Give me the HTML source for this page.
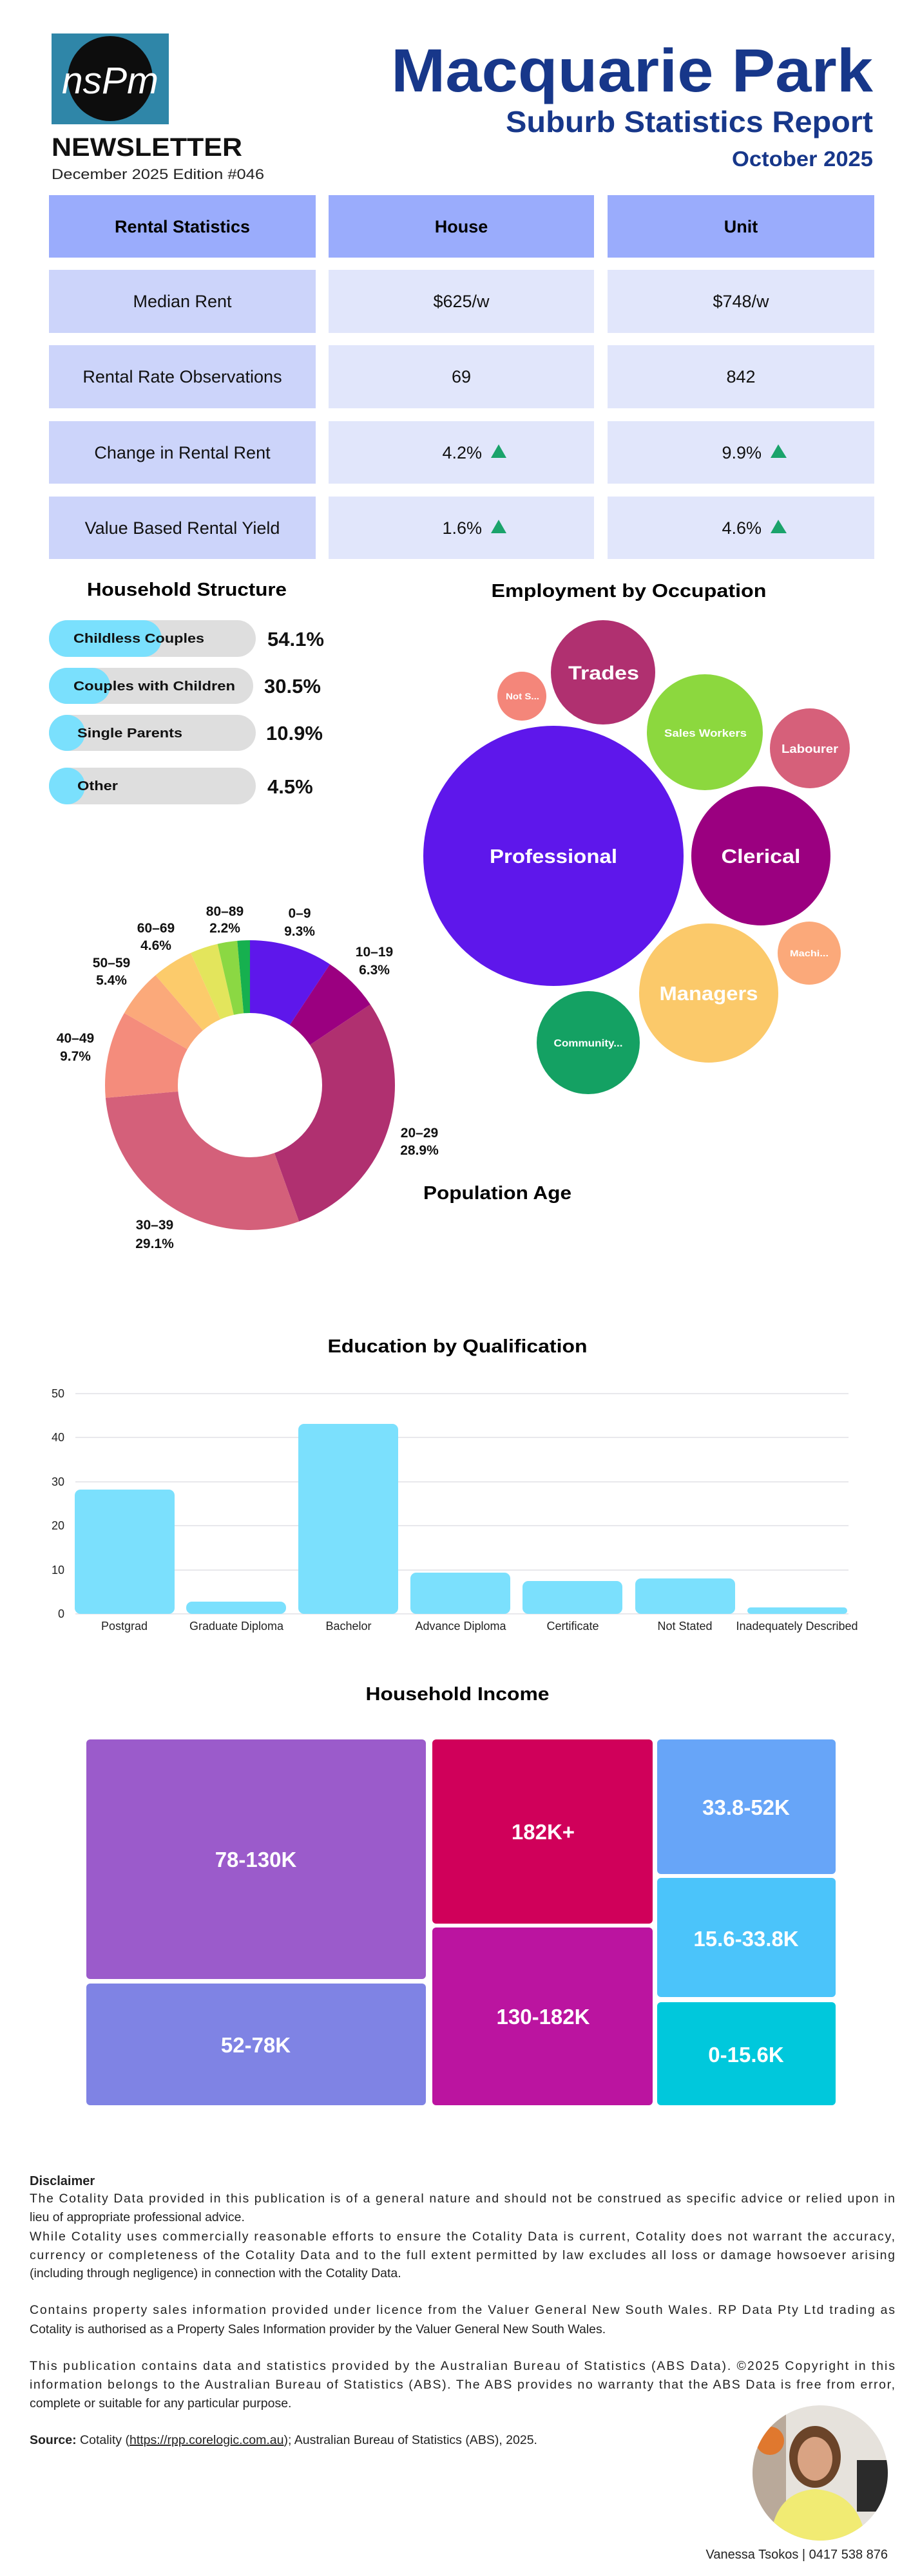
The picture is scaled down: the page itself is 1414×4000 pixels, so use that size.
<!DOCTYPE html>
<html><head><meta charset="utf-8"><style>
html,body{margin:0;padding:0;background:#fff}
svg{display:block}
text{font-family:"Liberation Sans",sans-serif}
.b{font-weight:bold}
</style></head><body>
<svg width="1414" height="4000" viewBox="0 0 1414 4000" xmlns="http://www.w3.org/2000/svg">
<rect width="1414" height="4000" fill="#fff"/>
<!-- logo -->
<rect x="80" y="52" width="182" height="141" fill="#2f86a8"/>
<circle cx="171" cy="122" r="66" fill="#0d0d0d"/>
<text x="171" y="145" text-anchor="middle" font-size="58" fill="#fff" font-style="italic" font-family="Liberation Serif, serif" textLength="150" lengthAdjust="spacingAndGlyphs">nsPm</text>
<text x="80" y="242" class="b" font-size="40" fill="#111" textLength="296" lengthAdjust="spacingAndGlyphs">NEWSLETTER</text>
<text x="80" y="278" font-size="22" fill="#222" textLength="330" lengthAdjust="spacingAndGlyphs">December 2025 Edition #046</text>
<text x="1355" y="142" text-anchor="end" class="b" font-size="95" fill="#17378a" textLength="748" lengthAdjust="spacingAndGlyphs">Macquarie Park</text>
<text x="1355" y="205" text-anchor="end" class="b" font-size="46" fill="#17378a" textLength="570" lengthAdjust="spacingAndGlyphs">Suburb Statistics Report</text>
<text x="1355" y="258" text-anchor="end" class="b" font-size="33" fill="#17378a" textLength="219" lengthAdjust="spacingAndGlyphs">October 2025</text>
<!-- table -->
<g font-size="27">
<rect x="76" y="303" width="414" height="97" fill="#9aacfc"/>
<rect x="510" y="303" width="412" height="97" fill="#9aacfc"/>
<rect x="943" y="303" width="414" height="97" fill="#9aacfc"/>
<text x="283" y="361" text-anchor="middle" class="b">Rental Statistics</text>
<text x="716" y="361" text-anchor="middle" class="b">House</text>
<text x="1150" y="361" text-anchor="middle" class="b">Unit</text>
<g fill="#ccd4fa"><rect x="76" y="419" width="414" height="98"/><rect x="76" y="536" width="414" height="98"/><rect x="76" y="654" width="414" height="97"/><rect x="76" y="771" width="414" height="97"/></g>
<g fill="#e1e6fb"><rect x="510" y="419" width="412" height="98"/><rect x="510" y="536" width="412" height="98"/><rect x="510" y="654" width="412" height="97"/><rect x="510" y="771" width="412" height="97"/>
<rect x="943" y="419" width="414" height="98"/><rect x="943" y="536" width="414" height="98"/><rect x="943" y="654" width="414" height="97"/><rect x="943" y="771" width="414" height="97"/></g>
<g fill="#111" text-anchor="middle">
<text x="283" y="477">Median Rent</text><text x="716" y="477">$625/w</text><text x="1150" y="477">$748/w</text>
<text x="283" y="594">Rental Rate Observations</text><text x="716" y="594">69</text><text x="1150" y="594">842</text>
<text x="283" y="712">Change in Rental Rent</text><text x="283" y="829">Value Based Rental Yield</text>
</g>
<g fill="#111" text-anchor="end">
<text x="748" y="712">4.2%</text><text x="1182" y="712">9.9%</text>
<text x="748" y="829">1.6%</text><text x="1182" y="829">4.6%</text>
</g>
<g fill="#1aa36b">
<polygon points="762,711 786,711 774,690"/><polygon points="1196,711 1221,711 1208,690"/>
<polygon points="762,828 786,828 774,807"/><polygon points="1196,828 1221,828 1208,807"/>
</g>
</g>
<!-- household structure -->
<text x="290" y="925" text-anchor="middle" class="b" font-size="29" textLength="310" lengthAdjust="spacingAndGlyphs">Household Structure</text>
<g>
<rect x="76" y="963" width="321" height="57" rx="28.5" fill="#dedede"/><rect x="76" y="963" width="175" height="57" rx="28.5" fill="#7ae0fd"/>
<rect x="76" y="1037" width="317" height="56" rx="28" fill="#dedede"/><rect x="76" y="1037" width="95" height="56" rx="28" fill="#7ae0fd"/>
<rect x="76" y="1110" width="321" height="56" rx="28" fill="#dedede"/><rect x="76" y="1110" width="56" height="56" rx="28" fill="#7ae0fd"/>
<rect x="76" y="1192" width="321" height="57" rx="28.5" fill="#dedede"/><rect x="76" y="1192" width="56" height="57" rx="28.5" fill="#7ae0fd"/>
</g>
<g class="b" font-size="20" fill="#111">
<text x="114" y="998" textLength="203" lengthAdjust="spacingAndGlyphs">Childless Couples</text>
<text x="114" y="1072" textLength="251" lengthAdjust="spacingAndGlyphs">Couples with Children</text>
<text x="120" y="1145" textLength="163" lengthAdjust="spacingAndGlyphs">Single Parents</text>
<text x="120" y="1227" textLength="63" lengthAdjust="spacingAndGlyphs">Other</text>
</g>
<g class="b" font-size="31" fill="#111">
<text x="415" y="1003">54.1%</text><text x="410" y="1076">30.5%</text><text x="413" y="1149">10.9%</text><text x="415" y="1232">4.5%</text>
</g>
<!-- employment bubbles -->
<text x="976" y="927" text-anchor="middle" class="b" font-size="29" textLength="427" lengthAdjust="spacingAndGlyphs">Employment by Occupation</text>
<circle cx="859" cy="1329" r="202" fill="#5e17eb"/>
<circle cx="936" cy="1044" r="81" fill="#b03070"/>
<circle cx="810" cy="1081" r="38" fill="#f4867a"/>
<circle cx="1094" cy="1137" r="90" fill="#8cd83e"/>
<circle cx="1257" cy="1162" r="62" fill="#d6607a"/>
<circle cx="1181" cy="1329" r="108" fill="#9b0080"/>
<circle cx="1256" cy="1480" r="49" fill="#fba97a"/>
<circle cx="1100" cy="1542" r="108" fill="#fbc96a"/>
<circle cx="913" cy="1619" r="80" fill="#14a163"/>
<g class="b" fill="#fff" text-anchor="middle">
<text x="859" y="1340" font-size="31" textLength="198" lengthAdjust="spacingAndGlyphs">Professional</text>
<text x="937" y="1055" font-size="30" textLength="110" lengthAdjust="spacingAndGlyphs">Trades</text>
<text x="1181" y="1340" font-size="31" textLength="123" lengthAdjust="spacingAndGlyphs">Clerical</text>
<text x="1100" y="1553" font-size="31" textLength="153" lengthAdjust="spacingAndGlyphs">Managers</text>
<text x="1095" y="1144" font-size="17" textLength="128" lengthAdjust="spacingAndGlyphs">Sales Workers</text>
<text x="1257" y="1169" font-size="18" textLength="88" lengthAdjust="spacingAndGlyphs">Labourer</text>
<text x="913" y="1625" font-size="16" textLength="107" lengthAdjust="spacingAndGlyphs">Community...</text>
<text x="811" y="1086" font-size="14" textLength="52" lengthAdjust="spacingAndGlyphs">Not S...</text>
<text x="1256" y="1485" font-size="14" textLength="60" lengthAdjust="spacingAndGlyphs">Machi...</text>
</g>
<!-- donut -->
<g transform="rotate(-90 388 1685)" fill="none" stroke-width="113">
<circle cx="388" cy="1685" r="168.5" pathLength="100" stroke="#5e17eb" stroke-dasharray="9.3 100" stroke-dashoffset="0"/>
<circle cx="388" cy="1685" r="168.5" pathLength="100" stroke="#9b0080" stroke-dasharray="6.3 100" stroke-dashoffset="-9.3"/>
<circle cx="388" cy="1685" r="168.5" pathLength="100" stroke="#b03070" stroke-dasharray="28.9 100" stroke-dashoffset="-15.6"/>
<circle cx="388" cy="1685" r="168.5" pathLength="100" stroke="#d4607a" stroke-dasharray="29.1 100" stroke-dashoffset="-44.5"/>
<circle cx="388" cy="1685" r="168.5" pathLength="100" stroke="#f48c7c" stroke-dasharray="9.7 100" stroke-dashoffset="-73.6"/>
<circle cx="388" cy="1685" r="168.5" pathLength="100" stroke="#fba97a" stroke-dasharray="5.4 100" stroke-dashoffset="-83.3"/>
<circle cx="388" cy="1685" r="168.5" pathLength="100" stroke="#fccb6b" stroke-dasharray="4.6 100" stroke-dashoffset="-88.7"/>
<circle cx="388" cy="1685" r="168.5" pathLength="100" stroke="#e3e55c" stroke-dasharray="3.1 100" stroke-dashoffset="-93.3"/>
<circle cx="388" cy="1685" r="168.5" pathLength="100" stroke="#8bd843" stroke-dasharray="2.2 100" stroke-dashoffset="-96.4"/>
<circle cx="388" cy="1685" r="168.5" pathLength="100" stroke="#16b04f" stroke-dasharray="1.4 100" stroke-dashoffset="-98.6"/>
</g>
<g class="b" font-size="21" fill="#111" text-anchor="middle">
<text x="465" y="1425">0–9</text><text x="465" y="1453">9.3%</text>
<text x="581" y="1485">10–19</text><text x="581" y="1513">6.3%</text>
<text x="651" y="1766">20–29</text><text x="651" y="1793">28.9%</text>
<text x="240" y="1909">30–39</text><text x="240" y="1938">29.1%</text>
<text x="117" y="1619">40–49</text><text x="117" y="1647">9.7%</text>
<text x="173" y="1502">50–59</text><text x="173" y="1529">5.4%</text>
<text x="242" y="1448">60–69</text><text x="242" y="1475">4.6%</text>
<text x="349" y="1422">80–89</text><text x="349" y="1448">2.2%</text>
</g>
<text x="657" y="1862" class="b" font-size="29" textLength="230" lengthAdjust="spacingAndGlyphs">Population Age</text>
<!-- education -->
<text x="710" y="2100" text-anchor="middle" class="b" font-size="29" textLength="403" lengthAdjust="spacingAndGlyphs">Education by Qualification</text>
<g stroke="#e8e8ec" stroke-width="2">
<line x1="117" y1="2164" x2="1317" y2="2164"/><line x1="117" y1="2232" x2="1317" y2="2232"/><line x1="117" y1="2301" x2="1317" y2="2301"/><line x1="117" y1="2369" x2="1317" y2="2369"/><line x1="117" y1="2438" x2="1317" y2="2438"/><line x1="117" y1="2506" x2="1317" y2="2506"/>
</g>
<g font-size="18" fill="#222" text-anchor="end">
<text x="100" y="2170">50</text><text x="100" y="2238">40</text><text x="100" y="2307">30</text><text x="100" y="2375">20</text><text x="100" y="2444">10</text><text x="100" y="2512">0</text>
</g>
<g fill="#7be0fd">
<rect x="116" y="2313" width="155" height="193" rx="9"/>
<rect x="289" y="2487" width="155" height="19" rx="9"/>
<rect x="463" y="2211" width="155" height="295" rx="9"/>
<rect x="637" y="2442" width="155" height="64" rx="9"/>
<rect x="811" y="2455" width="155" height="51" rx="9"/>
<rect x="986" y="2451" width="155" height="55" rx="9"/>
<rect x="1160" y="2496" width="155" height="10" rx="5"/>
</g>
<g font-size="18" fill="#222" text-anchor="middle">
<text x="193" y="2531">Postgrad</text><text x="367" y="2531">Graduate Diploma</text><text x="541" y="2531">Bachelor</text><text x="715" y="2531">Advance Diploma</text><text x="889" y="2531">Certificate</text><text x="1063" y="2531">Not Stated</text><text x="1237" y="2531">Inadequately Described</text>
</g>
<!-- income treemap -->
<text x="710" y="2640" text-anchor="middle" class="b" font-size="29" textLength="285" lengthAdjust="spacingAndGlyphs">Household Income</text>
<rect x="134" y="2701" width="527" height="372" rx="6" fill="#9b5bcb"/>
<rect x="134" y="3080" width="527" height="189" rx="6" fill="#7f83e4"/>
<rect x="671" y="2701" width="342" height="286" rx="6" fill="#d0005a"/>
<rect x="671" y="2993" width="342" height="276" rx="6" fill="#bb14a0"/>
<rect x="1020" y="2701" width="277" height="209" rx="6" fill="#67a5f8"/>
<rect x="1020" y="2916" width="277" height="185" rx="6" fill="#4bc4fa"/>
<rect x="1020" y="3109" width="277" height="160" rx="6" fill="#00c8dc"/>
<g class="b" font-size="33" fill="#fff" text-anchor="middle">
<text x="397" y="2899">78-130K</text><text x="843" y="2856">182K+</text><text x="1158" y="2818">33.8-52K</text>
<text x="1158" y="3022">15.6-33.8K</text><text x="397" y="3187">52-78K</text><text x="843" y="3143">130-182K</text><text x="1158" y="3202">0-15.6K</text>
</g>
<!-- disclaimer -->
<g font-size="19.5" fill="#222">
<text x="46" y="3393" class="b" font-size="20">Disclaimer</text>
<text x="46" y="3420" textLength="1343" lengthAdjust="spacing">The Cotality Data provided in this publication is of a general nature and should not be construed as specific advice or relied upon in</text>
<text x="46" y="3449">lieu of appropriate professional advice.</text>
<text x="46" y="3479" textLength="1343" lengthAdjust="spacing">While Cotality uses commercially reasonable efforts to ensure the Cotality Data is current, Cotality does not warrant the accuracy,</text>
<text x="46" y="3508" textLength="1343" lengthAdjust="spacing">currency or completeness of the Cotality Data and to the full extent permitted by law excludes all loss or damage howsoever arising</text>
<text x="46" y="3536">(including through negligence) in connection with the Cotality Data.</text>
<text x="46" y="3593" textLength="1343" lengthAdjust="spacing">Contains property sales information provided under licence from the Valuer General New South Wales. RP Data Pty Ltd trading as</text>
<text x="46" y="3623">Cotality is authorised as a Property Sales Information provider by the Valuer General New South Wales.</text>
<text x="46" y="3680" textLength="1343" lengthAdjust="spacing">This publication contains data and statistics provided by the Australian Bureau of Statistics (ABS Data). ©2025 Copyright in this</text>
<text x="46" y="3709" textLength="1343" lengthAdjust="spacing">information belongs to the Australian Bureau of Statistics (ABS). The ABS provides no warranty that the ABS Data is free from error,</text>
<text x="46" y="3738">complete or suitable for any particular purpose.</text>
<text x="46" y="3795"><tspan class="b">Source:</tspan> Cotality (<tspan text-decoration="underline">https://rpp.corelogic.com.au</tspan>); Australian Bureau of Statistics (ABS), 2025.</text>
</g>
<!-- photo -->
<defs><clipPath id="pc"><ellipse cx="1273" cy="3840" rx="105" ry="105"/></clipPath></defs>
<g clip-path="url(#pc)">
<rect x="1160" y="3730" width="230" height="220" fill="#e6e2dc"/>
<rect x="1160" y="3730" width="60" height="220" fill="#b9a99a"/>
<circle cx="1195" cy="3790" r="22" fill="#e0782e"/>
<rect x="1330" y="3820" width="50" height="80" fill="#2b2b2b"/>
<ellipse cx="1265" cy="3815" rx="40" ry="48" fill="#6b4429"/>
<ellipse cx="1265" cy="3818" rx="27" ry="34" fill="#d9a383"/>
<path d="M1195 3950 Q1200 3870 1265 3865 Q1335 3870 1345 3950 Z" fill="#f1eb73"/>
</g>
<text x="1378" y="3973" text-anchor="end" font-size="20" fill="#222">Vanessa Tsokos | 0417 538 876</text>
</svg>
</body></html>
